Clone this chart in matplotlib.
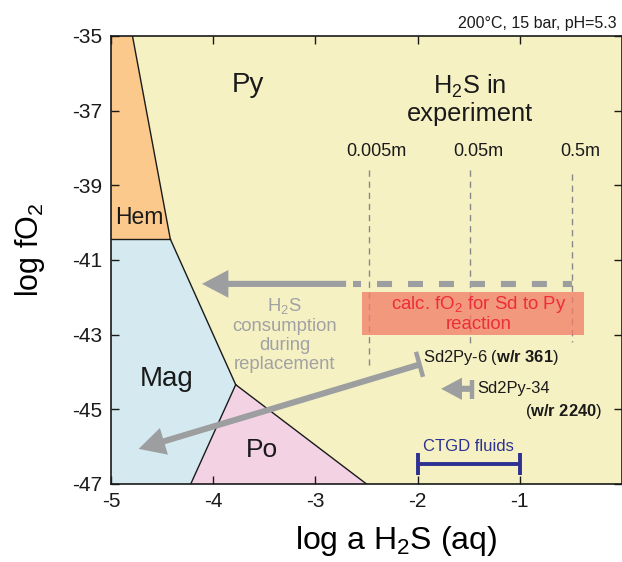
import matplotlib
matplotlib.use("Agg")
import matplotlib.pyplot as plt
from matplotlib.patches import Polygon, Rectangle, FancyArrowPatch

plt.rcParams['font.family'] = ['Liberation Sans', 'DejaVu Sans']
plt.rcParams['mathtext.fontset'] = 'custom'
plt.rcParams['mathtext.rm'] = 'Liberation Sans'
plt.rcParams['mathtext.it'] = 'Liberation Sans:italic'
plt.rcParams['mathtext.bf'] = 'Liberation Sans:bold'
plt.rcParams['lines.scale_dashes'] = False

# ---- data ----
x_ticks = [-5, -4, -3, -2, -1]
y_ticks = [-35, -37, -39, -41, -43, -45, -47]

hem_poly = [(-5, -35), (-4.79, -35), (-4.42, -40.44), (-5, -40.44)]
mag_poly = [(-5, -40.44), (-4.42, -40.44), (-3.78, -44.34), (-4.22, -47), (-5, -47)]
po_poly = [(-4.22, -47), (-3.78, -44.34), (-2.50, -47)]
boundaries = [
    [(-4.79, -35), (-4.42, -40.44)],
    [(-5, -40.44), (-4.42, -40.44)],
    [(-4.42, -40.44), (-3.78, -44.34)],
    [(-3.78, -44.34), (-4.22, -47)],
    [(-3.78, -44.34), (-2.50, -47)],
]
field_labels = ["Py", "Hem", "Mag", "Po"]
field_pos = [(-3.66, -36.3), (-4.72, -39.85), (-4.46, -44.2), (-3.52, -46.1)]
field_sizes = [20, 16.5, 20, 19]

exp_labels = ["0.005m", "0.05m", "0.5m"]
exp_x = [-2.48, -1.49, -0.49]
exp_top = [-38.6, -38.6, -38.7]
exp_bottom = [-43.9, -43.3, -43.2]

consumption_y = -41.64
consumption_tail = -2.70
consumption_tip = -4.11
dash_start = -2.63
dash_end = -0.49

calc_x = [-2.54, -0.37]
calc_y = [-43.0, -41.85]

sd6_bar = [(-2.016, -43.46), (-1.947, -44.13)]
sd6_start = (-1.98, -43.80)
sd6_tip = (-4.73, -46.06)

sd34_bar_x = -1.47
sd34_bar_y = [-44.21, -44.72]
sd34_y = -44.45
sd34_tip = -1.77

ctgd_x = [-2.0, -1.0]
ctgd_y = -46.46

# ---- figure ----
fig = plt.figure(figsize=(6.22, 5.62), dpi=100)
ax = fig.add_axes([0.1785, 0.1388, 0.8215, 0.7972])
py_col = '#F5F1C3'
ax.set_facecolor(py_col)
ax.set_xlim(-5, 0)
ax.set_ylim(-47, -35)

ax.add_patch(Polygon(hem_poly, closed=True, facecolor='#FBC98B', edgecolor='none', zorder=1))
ax.add_patch(Polygon(mag_poly, closed=True, facecolor='#D4EAF0', edgecolor='none', zorder=1))
ax.add_patch(Polygon(po_poly, closed=True, facecolor='#F3D2E4', edgecolor='none', zorder=1))
for seg in boundaries:
    ax.plot([seg[0][0], seg[1][0]], [seg[0][1], seg[1][1]], color='#1a1a1a', lw=1.0, zorder=2)

for lab, (x, y), fs in zip(field_labels, field_pos, field_sizes):
    ax.text(x, y, lab, fontsize=fs, ha='center', va='center', color='#1a1a1a', zorder=6)

ax.text(-1.49, -36.7, 'H$_2$S in\nexperiment', fontsize=18.3, ha='center', va='center',
        color='#1a1a1a', linespacing=1.12, zorder=6)

grey = '#9C9EA0'
for lab, x, yt, yb in zip(exp_labels, exp_x, exp_top, exp_bottom):
    ax.text(x + 0.08, -38.1, lab, fontsize=13, ha='center', va='center', color='#1a1a1a', zorder=6)
    ax.plot([x, x], [yt, yb], color='#888888', lw=1.0, dashes=(4.5, 3.5), zorder=3)

# calc fO2 rectangle
ax.add_patch(Rectangle((calc_x[0], calc_y[0]), calc_x[1] - calc_x[0], calc_y[1] - calc_y[0],
                       facecolor='#F27F6A', alpha=0.78, edgecolor='none', zorder=4))
ax.text(sum(calc_x) / 2 + 0.05, -42.44, 'calc. fO$_2$ for Sd to Py\nreaction', fontsize=13.4,
        ha='center', va='center', color='#EE2D3A', linespacing=1.1, zorder=6)

# H2S consumption arrow
lw_big = 4.4
ax.plot([dash_start, dash_end], [consumption_y, consumption_y], color=grey, lw=lw_big,
        solid_capstyle='butt', dash_capstyle='butt', linestyle=(5.0, (10.8, 11.5)), zorder=3)
arr = FancyArrowPatch((consumption_tail, consumption_y), (consumption_tip, consumption_y),
                      arrowstyle='simple,head_length=0.95,head_width=1.0,tail_width=0.22',
                      mutation_scale=20, color=grey, lw=0, shrinkA=0, shrinkB=0, zorder=3)
ax.add_patch(arr)
ax.text(-3.30, -43.0, 'H$_2$S\nconsumption\nduring\nreplacement', fontsize=13.3, ha='center',
        va='center', color='#A0A2A4', linespacing=1.17, zorder=6)

# Sd2Py-6
arr6 = FancyArrowPatch(sd6_start, sd6_tip,
                       arrowstyle='simple,head_length=0.95,head_width=1.0,tail_width=0.22',
                       mutation_scale=20, color=grey, lw=0, shrinkA=0, shrinkB=0, zorder=5)
ax.add_patch(arr6)
ax.plot([sd6_bar[0][0], sd6_bar[1][0]], [sd6_bar[0][1], sd6_bar[1][1]], color=grey, lw=3.2,
        solid_capstyle='butt', zorder=5)
ax.text(-1.95, -43.62, r'Sd2Py-6 ($\mathbf{w/r\ 361}$)', fontsize=11.9, ha='left', va='center',
        color='#1a1a1a', zorder=6)

# Sd2Py-34
arr34 = FancyArrowPatch((sd34_bar_x, sd34_y), (sd34_tip, sd34_y),
                        arrowstyle='simple,head_length=0.75,head_width=0.8,tail_width=0.22',
                        mutation_scale=20, color=grey, lw=0, shrinkA=0, shrinkB=0, zorder=5)
ax.add_patch(arr34)
ax.plot([sd34_bar_x, sd34_bar_x], sd34_bar_y, color=grey, lw=3.2, solid_capstyle='butt', zorder=5)
ax.text(-1.42, -44.45, 'Sd2Py-34', fontsize=11.9, ha='left', va='center', color='#1a1a1a', zorder=6)
ax.text(-0.196, -45.07, r'($\mathbf{w/r\ 2240}$)', fontsize=11.9, ha='right', va='center',
        color='#1a1a1a', zorder=6)

# CTGD fluids
blue = '#2E3192'
ax.plot(ctgd_x, [ctgd_y, ctgd_y], color=blue, lw=2.8, solid_capstyle='butt', zorder=5)
for x in ctgd_x:
    ax.plot([x, x], [ctgd_y - 0.3, ctgd_y + 0.3], color=blue, lw=2.8, solid_capstyle='butt', zorder=5)
ax.text(-1.5, -46.0, 'CTGD fluids', fontsize=12, ha='center', va='center', color=blue, zorder=6)

ax.set_xticks(x_ticks)
ax.set_yticks(y_ticks)
ax.set_xticklabels([str(v) for v in x_ticks])
ax.set_yticklabels([str(v) for v in y_ticks])
ax.tick_params(direction='in', length=6, width=1, labelsize=15, top=True, right=True,
               pad=6, colors='#1a1a1a')
for s in ax.spines.values():
    s.set_linewidth(1.2)
    s.set_color('#1a1a1a')

ax.set_xlabel('log a H$_2$S (aq)', fontsize=23)
ax.set_ylabel('log fO$_2$', fontsize=22)
ax.xaxis.set_label_coords(0.558, -0.09)
ax.yaxis.set_label_coords(-0.125, 0.522)
fig.text(0.992, 0.958, '200°C, 15 bar, pH=5.3', fontsize=11.5, ha='right', va='center', color='#1a1a1a')

fig.savefig('out.png', dpi=100)
